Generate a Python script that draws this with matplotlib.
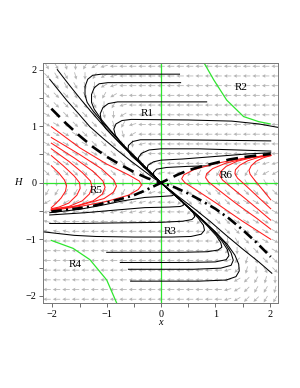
import numpy as np
import matplotlib
matplotlib.use("Agg")
import matplotlib.pyplot as plt

# direction field: one char per arrow, rows from top (H=2.06) to bottom
ANGLE = {'6': 0, '9': 45, '8': 90, '7': 135, 'a': 165, '4': 180, 'b': 195, 'c': 210,
         '1': 225, 'd': 240, 'e': 255, '2': 270, 'f': 285, 'g': 300, '3': 315, 'h': 330, 'i': 345}
FIELD = [
    "ggf2dcb444444444444444444",
    "3ggf2dcb44444444444444444",
    "33ggf2cb44444444444444444",
    "333ggfdc44444444444444444",
    "3333gg2db4444444444444444",
    "h3333gf2c4444444444444444",
    "hh3333gfdb444444444444444",
    "hhhh333gfc444444444444444",
    "hhhhh333g2b44444444444444",
    "hhhhhh333gd44444444444444",
    "hhhhhhhh33gb444444bbbbbbb",
    "33333333333gb44ddddddddcc",
    "2222222222211gggggggggggg",
    "ddddddddddbb4333333333333",
    "cccccccbbbbb44133333hhhhh",
    "bbbbbbbbbbbb4441333hhhhhh",
    "aa444444444444441g33hhhhh",
    "aaa444444444444441g33hhhh",
    "44444444444444444412g3hhh",
    "444444444444444444b12g3hh",
    "4444444444444444444b1eg33",
    "4444444444444444444b1e2g3",
    "4444444444444444444bc1de2",
    "4444444444444444444bc1dde",
    "4444444444444444444bc11dd",
]

# black trajectories, region R1 (come from the right, turn down into the origin)
r1_curves = [
    ([0.34, -1.1, -1.26, -1.35, -1.4, -1.4, -1.36, -1.26, -1.08, -0.88, -0.66, -0.44, -0.22, 0.0],
     [1.92, 1.92, 1.9, 1.83, 1.7, 1.55, 1.42, 1.28, 1.07, 0.86, 0.63, 0.42, 0.21, 0.0]),
    ([0.36, -0.98, -1.14, -1.23, -1.28, -1.28, -1.23, -1.1, -0.9, -0.68, -0.45, -0.22, 0.0],
     [1.77, 1.77, 1.75, 1.68, 1.56, 1.42, 1.3, 1.12, 0.89, 0.65, 0.43, 0.21, 0.0]),
    ([0.84, -0.8, -0.97, -1.07, -1.12, -1.1, -1.02, -0.88, -0.68, -0.46, -0.23, 0.0],
     [1.43, 1.43, 1.4, 1.33, 1.22, 1.08, 0.96, 0.82, 0.63, 0.43, 0.21, 0.0]),
    ([2.15, 1.8, 1.3, 0.5, -0.55, -0.72, -0.83, -0.87, -0.84, -0.74, -0.58, -0.4, -0.2, 0.0],
     [0.98, 1.04, 1.09, 1.11, 1.12, 1.1, 1.04, 0.95, 0.84, 0.71, 0.55, 0.38, 0.19, 0.0]),
    ([2.02, 1.2, 0.3, -0.38, -0.52, -0.6, -0.61, -0.55, -0.42, -0.28, -0.14, 0.0],
     [0.74, 0.75, 0.76, 0.76, 0.73, 0.66, 0.57, 0.48, 0.37, 0.25, 0.13, 0.0]),
    ([2.02, 1.4, 0.7, 0.0, -0.22, -0.36, -0.42, -0.4, -0.32, -0.2, -0.1, 0.0],
     [0.56, 0.58, 0.6, 0.6, 0.58, 0.52, 0.44, 0.36, 0.27, 0.17, 0.08, 0.0]),
    ([2.02, 1.6, 1.2, 0.8, 0.4, 0.0, -0.14, -0.24, -0.26, -0.2, -0.1, 0.0],
     [0.53, 0.51, 0.48, 0.45, 0.42, 0.4, 0.37, 0.31, 0.24, 0.16, 0.08, 0.0]),
    ([0.9, 0.5, 0.1, -0.08, -0.14, -0.13, -0.08, 0.0],
     [0.3, 0.29, 0.27, 0.24, 0.18, 0.12, 0.06, 0.0]),
]

# the two black curves coming in from the top left
ul_curves = [
    ([-2.05, -1.74, -1.5, -1.31, -1.05, -0.8, -0.55, -0.3, -0.12, 0.0],
     [1.83, 1.46, 1.2, 0.99, 0.77, 0.57, 0.38, 0.2, 0.07, 0.0]),
    ([-1.91, -1.7, -1.5, -1.3, -1.1, -0.9, -0.7, -0.5, -0.3, -0.15, 0.0],
     [2.0, 1.74, 1.5, 1.27, 1.05, 0.84, 0.64, 0.45, 0.27, 0.13, 0.0]),
]

# black trajectories, region R3 (leave the origin, turn and run off to the left)
r3_curves = [
    ([0.0, 0.1, 0.18, 0.23, 0.24, 0.2, 0.05, -0.3, -0.7, -1.1, -1.5, -2.05],
     [0.0, -0.09, -0.14, -0.18, -0.21, -0.23, -0.24, -0.26, -0.32, -0.4, -0.47, -0.53]),
    ([0.0, 0.15, 0.28, 0.37, 0.41, 0.41, 0.35, 0.15, -0.3, -0.8, -1.4, -2.05],
     [0.0, -0.13, -0.24, -0.31, -0.36, -0.4, -0.42, -0.43, -0.44, -0.48, -0.53, -0.57]),
    ([0.0, 0.2, 0.4, 0.52, 0.6, 0.62, 0.57, 0.4, 0.0, -0.8, -1.5, -2.05],
     [0.0, -0.17, -0.34, -0.45, -0.54, -0.6, -0.65, -0.68, -0.7, -0.71, -0.72, -0.72]),
    ([0.0, 0.25, 0.5, 0.68, 0.78, 0.8, 0.74, 0.55, 0.2, -0.5, -1.2, -1.6, -2.15],
     [0.0, -0.22, -0.44, -0.62, -0.75, -0.84, -0.91, -0.95, -0.96, -0.96, -0.95, -0.93, -0.87]),
    ([0.0, 0.3, 0.6, 0.85, 1.02, 1.1, 1.12, 1.05, 0.85, 0.4, -0.3, -1.0],
     [0.0, -0.26, -0.52, -0.76, -0.94, -1.06, -1.14, -1.19, -1.22, -1.23, -1.23, -1.23]),
    ([0.0, 0.35, 0.7, 0.95, 1.12, 1.22, 1.25, 1.2, 1.0, 0.5, -0.2, -0.75],
     [0.0, -0.3, -0.6, -0.84, -1.03, -1.18, -1.29, -1.36, -1.4, -1.41, -1.41, -1.41]),
    ([0.0, 0.35, 0.7, 1.0, 1.18, 1.29, 1.33, 1.29, 1.1, 0.6, 0.0, -0.6],
     [0.0, -0.3, -0.6, -0.87, -1.07, -1.24, -1.37, -1.46, -1.51, -1.53, -1.53, -1.53]),
    ([0.0, 0.35, 0.7, 1.0, 1.22, 1.36, 1.43, 1.44, 1.38, 1.2, 0.7, 0.0, -0.56],
     [0.0, -0.3, -0.6, -0.87, -1.09, -1.28, -1.44, -1.56, -1.66, -1.72, -1.74, -1.74, -1.74]),
    ([0.0, 0.3, 0.6, 0.9, 1.2, 1.5, 1.8, 2.04],
     [0.0, -0.23, -0.45, -0.68, -0.93, -1.17, -1.4, -1.6]),
]

# red trajectories in R5 and R6
r5_curves = [
    ([-2.02, -1.88, -1.78, -1.74, -1.76, -1.84, -1.95, -2.02],
     [0.30, 0.17, 0.05, -0.05, -0.15, -0.27, -0.38, -0.44]),
    ([-2.02, -1.8, -1.6, -1.5, -1.49, -1.55, -1.7, -1.88, -2.02],
     [0.48, 0.3, 0.12, 0.0, -0.1, -0.22, -0.36, -0.43, -0.46]),
    ([-2.02, -1.7, -1.45, -1.3, -1.27, -1.32, -1.45, -1.7, -2.02],
     [0.60, 0.38, 0.18, 0.03, -0.08, -0.2, -0.32, -0.42, -0.47]),
    ([-2.02, -1.6, -1.25, -1.07, -1.03, -1.08, -1.25, -1.6, -2.02],
     [0.70, 0.44, 0.2, 0.03, -0.08, -0.2, -0.32, -0.42, -0.48]),
    ([-2.02, -1.5, -1.1, -0.87, -0.82, -0.88, -1.05, -1.5, -2.02],
     [0.80, 0.5, 0.25, 0.05, -0.06, -0.17, -0.28, -0.4, -0.48]),
    ([-2.02, -1.5, -1.0, -0.6, -0.4, -0.36, -0.42, -0.6, -1.0, -1.5, -2.02],
     [0.99, 0.62, 0.33, 0.14, 0.03, -0.04, -0.12, -0.22, -0.33, -0.42, -0.49]),
]
r6_curves = [
    ([2.02, 1.5, 1.0, 0.6, 0.42, 0.38, 0.44, 0.62, 1.0, 1.5, 2.02],
     [0.49, 0.43, 0.34, 0.23, 0.14, 0.07, 0.0, -0.11, -0.35, -0.68, -1.0]),
    ([2.02, 1.6, 1.2, 0.95, 0.84, 0.82, 0.88, 1.05, 1.4, 1.75, 2.02],
     [0.49, 0.44, 0.35, 0.25, 0.16, 0.09, 0.01, -0.12, -0.38, -0.62, -0.82]),
    ([2.02, 1.7, 1.4, 1.2, 1.1, 1.08, 1.13, 1.28, 1.55, 1.8, 2.02],
     [0.49, 0.45, 0.38, 0.29, 0.2, 0.13, 0.05, -0.07, -0.28, -0.48, -0.66]),
    ([2.02, 1.8, 1.6, 1.45, 1.37, 1.36, 1.41, 1.55, 1.75, 2.02],
     [0.48, 0.45, 0.39, 0.31, 0.23, 0.16, 0.08, -0.04, -0.22, -0.46]),
    ([2.02, 1.88, 1.75, 1.66, 1.62, 1.64, 1.72, 1.85, 2.02],
     [0.48, 0.44, 0.38, 0.3, 0.22, 0.15, 0.05, -0.1, -0.3]),
]

# separating curves
dash_x = [-2.02, -1.75, -1.5, -1.25, -1.0, -0.75, -0.5, -0.25, 0.0, 0.15, 0.3, 0.5, 0.75, 1.0, 1.25, 1.5, 1.75, 2.02]
dash_h = [1.31, 1.05, 0.83, 0.63, 0.46, 0.32, 0.19, 0.08, 0.0, 0.07, 0.14, 0.22, 0.29, 0.35, 0.41, 0.45, 0.48, 0.51]
dd_x = [-2.02, -1.75, -1.5, -1.25, -1.0, -0.75, -0.5, -0.3, -0.15, 0.0, 0.25, 0.5, 0.75, 1.0, 1.25, 1.5, 1.75, 2.02]
dd_h = [-0.51, -0.48, -0.45, -0.41, -0.35, -0.29, -0.22, -0.14, -0.07, 0.0, -0.08, -0.19, -0.32, -0.46, -0.63, -0.83, -1.05, -1.31]

# green boundary curves
g2_x = [0.78, 0.97, 1.21, 1.52, 1.8, 2.01]
g2_h = [2.14, 1.82, 1.46, 1.17, 1.08, 1.04]
g4_x = [-2.02, -1.62, -1.31, -1.0, -0.82]
g4_h = [-1.02, -1.16, -1.36, -1.72, -2.12]

labels = ["R1", "R2", "R3", "R4", "R5", "R6"]
label_x = [-0.26, 1.47, 0.17, -1.59, -1.19, 1.2]
label_h = [1.23, 1.69, -0.86, -1.45, -0.13, 0.12]

SERIF = "Liberation Serif"
GREEN = "#2fe62f"

fig = plt.figure(figsize=(3.0, 3.88), dpi=100)
ax = fig.add_axes([0.144, 0.220, 0.782, 0.618])

# direction field
gx = np.linspace(-2.1, 2.1, 25)
gy = np.linspace(2.06, -2.06, 25)
X, Y, U, V = [], [], [], []
for i, row in enumerate(FIELD):
    for j, ch in enumerate(row):
        a = np.deg2rad(ANGLE[ch])
        X.append(gx[j]); Y.append(gy[i])
        U.append(np.cos(a)); V.append(np.sin(a))
ax.quiver(X, Y, U, V, angles='uv', units='dots', scale_units='dots', scale=1 / 7.5,
          width=0.8, headwidth=4.5, headlength=4.5, headaxislength=4, pivot='middle',
          color='#b5b5b5', zorder=1)

ax.axhline(0, color=GREEN, lw=0.9, zorder=2)
ax.axvline(0, color=GREEN, lw=0.9, zorder=2)
ax.plot(g2_x, g2_h, color=GREEN, lw=0.9, zorder=2)
ax.plot(g4_x, g4_h, color=GREEN, lw=0.9, zorder=2)

for xs, hs in r1_curves + ul_curves + r3_curves:
    ax.plot(xs, hs, color='black', lw=0.75, zorder=3)
for xs, hs in r5_curves + r6_curves:
    ax.plot(xs, hs, color='#ff1a1a', lw=0.75, zorder=3)

ax.plot(dash_x, dash_h, color='black', lw=1.9, linestyle=(0, (4.5, 2.5)), zorder=4)
ax.plot(dd_x, dd_h, color='black', lw=1.9, linestyle=(0, (4, 1.6, 0.8, 1.6)), zorder=4)

for t, lx, lh in zip(labels, label_x, label_h):
    ax.text(lx, lh, t, fontsize=8, family=SERIF, ha='center', va='center', zorder=5)

ax.set_xlim(-2.17, 2.15)
ax.set_ylim(-2.12, 2.12)
ax.set_xticks([-2, -1, 0, 1, 2])
ax.set_yticks([-2, -1, 0, 1, 2])
ax.set_xticklabels(["\u22122", "\u22121", "0", "1", "2"])
ax.set_yticklabels(["\u22122", "\u22121", "0", "1", "2"])
ax.set_xticks([-1.5, -0.5, 0.5, 1.5], minor=True)
ax.set_yticks([-1.5, -0.5, 0.5, 1.5], minor=True)
ax.tick_params(which='both', direction='out', length=3, width=0.6, color='#555555',
               labelsize=7.3, pad=2)
for lab in ax.get_xticklabels() + ax.get_yticklabels():
    lab.set_family(SERIF)
for s in ax.spines.values():
    s.set_color('#777777')
    s.set_linewidth(0.7)

ax.text(-0.108, 0.5, "H", transform=ax.transAxes, fontsize=7.5, family=SERIF,
        style='italic', ha='center', va='center')
ax.text(0.498, -0.083, "x", transform=ax.transAxes, fontsize=7.5, family=SERIF,
        style='italic', ha='center', va='center')

fig.savefig("out.png", dpi=100)
